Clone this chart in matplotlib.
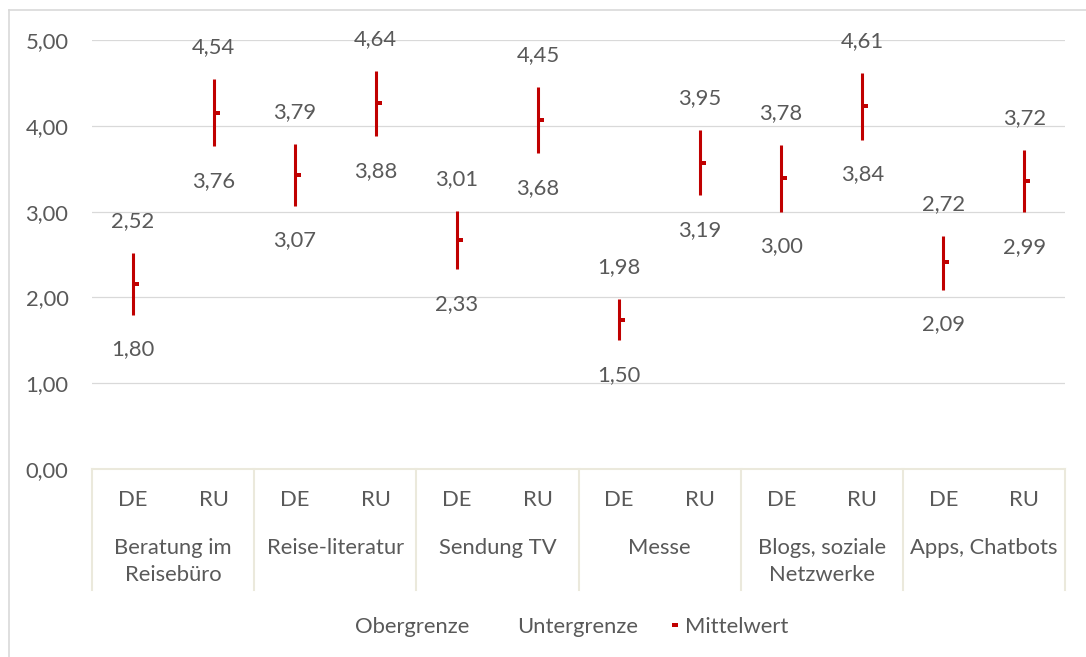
import matplotlib
matplotlib.use("Agg")
import matplotlib.pyplot as plt
from matplotlib.lines import Line2D

plt.rcParams['font.family'] = ['Lato', 'DejaVu Sans']

groups = ['Beratung im\nReisebüro', 'Reise-literatur', 'Sendung TV', 'Messe',
          'Blogs, soziale\nNetzwerke', 'Apps, Chatbots']
countries = ['DE', 'RU']
obergrenze = [2.52, 4.54, 3.79, 4.64, 3.01, 4.45, 1.98, 3.95, 3.78, 4.61, 2.72, 3.72]
untergrenze = [1.80, 3.76, 3.07, 3.88, 2.33, 3.68, 1.50, 3.19, 3.00, 3.84, 2.09, 2.99]
mittelwert = [2.16, 4.15, 3.43, 4.26, 2.67, 4.07, 1.74, 3.57, 3.39, 4.23, 2.41, 3.36]
yticks = [0, 1, 2, 3, 4, 5]

red = '#c00000'
txt = '#595959'
grid = '#d9d9d9'
box = '#ebe9dc'
fs = 15.8

fig = plt.figure(figsize=(10.86, 6.57), dpi=100)
ax = fig.add_axes([92 / 1086, 1 - 469 / 657, (1065 - 92) / 1086, 429 / 657])

x = list(range(len(obergrenze)))

# high-low lines
ax.vlines(x, untergrenze, obergrenze, color=red, lw=2.2, zorder=3)
dash = [(0, -0.4), (1, -0.4), (1, 0.4), (0, 0.4), (0, -0.4)]
ax.plot(x, mittelwert, ls='none', marker=dash, ms=8, mew=0, color=red, zorder=4)

for xi, hi, lo in zip(x, obergrenze, untergrenze):
    ax.annotate(f'{hi:.2f}'.replace('.', ','), (xi, hi), xytext=(0, 23),
                textcoords='offset points', ha='center', va='center',
                fontsize=fs, color=txt)
    ax.annotate(f'{lo:.2f}'.replace('.', ','), (xi, lo), xytext=(0, -25),
                textcoords='offset points', ha='center', va='center',
                fontsize=fs, color=txt)

ax.set_ylim(0, 5)
ax.set_xlim(-0.5, len(x) - 0.5)
ax.set_yticks(yticks)
ax.set_yticklabels([f'{v:.2f}'.replace('.', ',') for v in yticks],
                   fontsize=fs, color=txt)
ax.tick_params(axis='y', length=0, pad=17)
ax.set_xticks([])
ax.yaxis.grid(True, color=grid, lw=0.9)
ax.set_axisbelow(True)
for s in ['top', 'right', 'left']:
    ax.spines[s].set_visible(False)
ax.spines['bottom'].set_color(box)
ax.spines['bottom'].set_linewidth(1.5)

# two-level category axis
tr = ax.get_xaxis_transform()
for xi in x:
    ax.text(xi, -31 / 429, countries[xi % 2], transform=tr, ha='center',
            va='center', fontsize=fs, color=txt)
for gi, g in enumerate(groups):
    n = g.count('\n')
    yc = 548 + 13.5 * n - 469
    ax.text(gi * 2 + 0.5, -yc / 429, g, transform=tr, ha='center',
            va='center', fontsize=fs, color=txt, linespacing=1.38)
for b in range(len(groups) + 1):
    ax.plot([b * 2 - 0.5, b * 2 - 0.5], [0, -121 / 429], transform=tr,
            color=box, lw=1.5, clip_on=False)

handles = [Line2D([], [], ls='none'),
           Line2D([], [], ls='none'),
           Line2D([], [], ls='none', marker=dash, ms=8, mew=0, color=red)]
fig.legend(handles, ['Obergrenze', 'Untergrenze', 'Mittelwert'], ncol=3,
           loc='center', bbox_to_anchor=(562 / 1086, 1 - 627 / 657),
           frameon=False, fontsize=fs, labelcolor=txt, handlelength=0.6,
           handletextpad=0.3, columnspacing=1.25)

# chart border
fig.add_artist(Line2D([9 / 1086, 9 / 1086], [0, 1 - 10 / 657], color=grid, lw=1.2))
fig.add_artist(Line2D([9 / 1086, 1], [1 - 10 / 657, 1 - 10 / 657], color=grid, lw=1.2))

fig.savefig('out.png', dpi=100)
